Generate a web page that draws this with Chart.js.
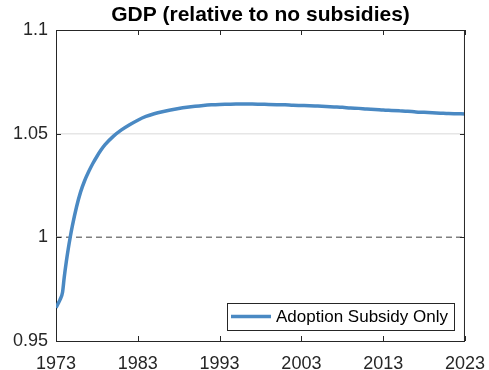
<!DOCTYPE html>
<html>
<head>
<meta charset="utf-8">
<script src="https://cdn.jsdelivr.net/npm/chart.js@4"></script>
<style>
  html, body { margin: 0; padding: 0; background: #fff; }
  #wrap { width: 489px; height: 370px; position: relative; }
</style>
</head>
<body>
<div id="wrap"><canvas id="chart-gdp"></canvas></div>
<script>
// ── DATA ──
// finer steps over the first years where the series moves fast
const years = [
  1973, 1973.25, 1973.5, 1973.8, 1974, 1974.25, 1974.5, 1974.75, 1975, 1975.5,
  1976, 1976.5, 1977, 1977.5, 1978, 1978.5, 1979, 1980, 1981, 1982,
  1983, 1984, 1985, 1986, 1987, 1988, 1989, 1990, 1991, 1992,
  1993, 1994, 1995, 1996, 1997, 1998, 1999, 2000, 2001, 2002,
  2003, 2004, 2005, 2006, 2007, 2008, 2009, 2010, 2011, 2012,
  2013, 2014, 2015, 2016, 2017, 2018, 2019, 2020, 2021, 2022, 2023
];
const gdpRatio = [
  0.966, 0.968, 0.970, 0.9735, 0.9805, 0.9880, 0.9945, 1.0003, 1.0055, 1.0145,
  1.0218, 1.0273, 1.0317, 1.0356, 1.0390, 1.0421, 1.0447, 1.0487, 1.0518, 1.0543,
  1.0565, 1.0583, 1.0596, 1.0606, 1.0614, 1.0621, 1.0627, 1.0632, 1.0636, 1.0639,
  1.0641, 1.0642, 1.0643, 1.0643, 1.0643, 1.0642, 1.0641, 1.0640, 1.0639, 1.0637,
  1.0636, 1.0635, 1.0633, 1.0631, 1.0629, 1.0627, 1.0624, 1.0622, 1.0619, 1.0617,
  1.0614, 1.0612, 1.0610, 1.0608, 1.0605, 1.0603, 1.0601, 1.0599, 1.0597, 1.0596, 1.0595
];
const baseline = 1;
const xTicks = [1973, 1983, 1993, 2003, 2013, 2023];
const yTicks = [0.95, 1, 1.05, 1.1];
const yTickLabels = ['0.95', '1', '1.05', '1.1'];
const gridAt = 1.05;
const seriesLabel = 'Adoption Subsidy Only';
const titleText = 'GDP (relative to no subsidies)';

// ── STYLE ──
const FONT = "'Liberation Sans', Arial, Helvetica, sans-serif";
const AXIS = '#262626';
const BLUE = '#4a89c3';

// title over the axes, box lines on top/right, inward ticks, legend inside the axes
const boxPlugin = {
  id: 'matlabBox',
  afterDraw(chart) {
    const { ctx, chartArea: a, scales: { x, y } } = chart;
    const t = 5;
    ctx.save();

    ctx.fillStyle = '#000';
    ctx.font = `bold 21px ${FONT}`;
    ctx.textAlign = 'center';
    ctx.textBaseline = 'middle';
    ctx.fillText(titleText, (a.left + a.right) / 2, 15);

    ctx.strokeStyle = AXIS;
    ctx.lineWidth = 1;
    ctx.beginPath();
    ctx.moveTo(a.left, a.top + 0.5); ctx.lineTo(a.right, a.top + 0.5);
    ctx.moveTo(a.right - 0.5, a.top); ctx.lineTo(a.right - 0.5, a.bottom);
    xTicks.forEach(v => {
      const px = Math.round(x.getPixelForValue(v)) + 0.5;
      ctx.moveTo(px, a.bottom); ctx.lineTo(px, a.bottom - t);
      ctx.moveTo(px, a.top); ctx.lineTo(px, a.top + t);
    });
    yTicks.forEach(v => {
      const py = Math.round(y.getPixelForValue(v)) + 0.5;
      ctx.moveTo(a.left, py); ctx.lineTo(a.left + t, py);
      ctx.moveTo(a.right, py); ctx.lineTo(a.right - t, py);
    });
    ctx.stroke();

    // legend
    const ds = chart.data.datasets[0];
    ctx.font = `17px ${FONT}`;
    ctx.textAlign = 'left';
    const tw = ctx.measureText(ds.label).width;
    const bw = Math.round(4 + 40 + 5 + tw + 6), bh = 27;
    const bx = Math.round(a.right - 11 - bw), by = Math.round(a.bottom - 11 - bh);
    ctx.fillStyle = '#fff';
    ctx.fillRect(bx, by, bw, bh);
    ctx.strokeStyle = AXIS;
    ctx.strokeRect(bx + 0.5, by + 0.5, bw, bh);
    ctx.strokeStyle = ds.borderColor;
    ctx.lineWidth = ds.borderWidth;
    ctx.beginPath();
    ctx.moveTo(bx + 4, by + bh / 2); ctx.lineTo(bx + 44, by + bh / 2);
    ctx.stroke();
    ctx.fillStyle = '#000';
    ctx.fillText(ds.label, bx + 49, by + bh / 2 + 1);
    ctx.restore();
  }
};

new Chart(document.getElementById('chart-gdp'), {
  type: 'line',
  data: {
    datasets: [
      {
        label: seriesLabel,
        data: years.map((yr, i) => ({ x: yr, y: gdpRatio[i] })),
        borderColor: BLUE,
        borderWidth: 3.5,
        pointRadius: 0,
        cubicInterpolationMode: 'monotone',
        fill: false,
        order: 0
      },
      {
        label: 'baseline',
        data: [{ x: years[0], y: baseline }, { x: years[years.length - 1], y: baseline }],
        borderColor: '#808080',
        borderWidth: 1.5,
        borderDash: [6, 4],
        pointRadius: 0,
        fill: false,
        order: 1
      }
    ]
  },
  options: {
    animation: false,
    responsive: true,
    maintainAspectRatio: false,
    layout: { padding: { left: 0, right: 24, top: 30, bottom: 0 } },
    plugins: {
      legend: { display: false },
      tooltip: { enabled: false },
      title: { display: false }
    },
    scales: {
      x: {
        type: 'linear',
        min: 1973,
        max: 2023,
        afterBuildTicks: s => { s.ticks = xTicks.map(v => ({ value: v })); },
        afterFit: s => { s.height = 29; },
        grid: { display: false },
        border: { display: true, color: AXIS, width: 1 },
        ticks: {
          color: AXIS,
          font: { family: FONT, size: 18 },
          padding: 4,
          maxRotation: 0,
          autoSkip: false,
          callback: v => String(v)
        }
      },
      y: {
        min: 0.95,
        max: 1.1,
        afterBuildTicks: s => { s.ticks = yTicks.map(v => ({ value: v })); },
        afterFit: s => { s.width = 56; },
        grid: {
          drawTicks: false,
          lineWidth: 1.5,
          color: c => (c.tick && Math.abs(c.tick.value - gridAt) < 1e-9) ? '#e6e6e6' : 'rgba(0,0,0,0)'
        },
        border: { display: true, color: AXIS, width: 1 },
        ticks: {
          color: AXIS,
          font: { family: FONT, size: 18 },
          padding: 8,
          autoSkip: false,
          callback: v => yTickLabels[yTicks.findIndex(t => Math.abs(t - v) < 1e-9)]
        }
      }
    }
  },
  plugins: [boxPlugin]
});
</script>
</body>
</html>
